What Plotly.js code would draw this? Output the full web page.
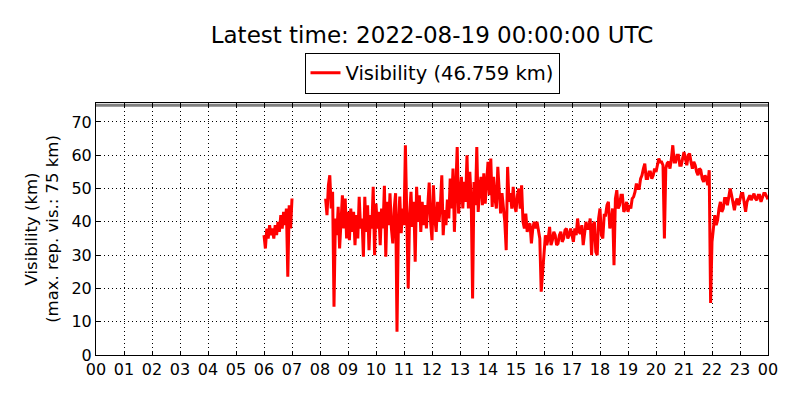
<!DOCTYPE html>
<html>
<head>
<meta charset="utf-8">
<script src="https://cdn.plot.ly/plotly-3.0.1.min.js"></script>
<style>
  body { margin: 0; background: #fff; }
  #chart { width: 800px; height: 400px; }
</style>
</head>
<body>
<div id="chart"></div>
<script>
// visibility readings (km), hours of 2022-08-18 UTC
var morningStart = 6.0;
var morningStep = 0.05;
var morningVis = [
  36, 32, 38, 35, 39, 36, 38, 35, 39, 36, 40, 37, 42, 38, 43, 39, 44, 23.5, 45, 38, 47
];

var dayStart = 8.2;
var dayStep = 0.05;
var dayVis = [
  // 08:12 - 08:57
  47, 42, 51, 54, 44, 49, 14.5, 41, 36, 44.5, 32, 42, 48, 38, 47, 35,
  // 09
  43, 34.5, 44, 37, 43, 33, 42, 35, 47.5, 38, 41, 29.5, 47.5, 37, 45, 31.5, 42, 38, 50.5, 30,
  // 10
  45.5, 38, 43, 33, 44, 38, 50.8, 29.5, 46, 39, 48.6, 38, 33.5, 44, 48.6, 7, 40, 47.6, 36.6, 44,
  // 11
  39, 63, 35, 20, 42, 49, 38.5, 46, 28, 50.5, 40, 48, 37, 46, 39, 45, 38, 47, 51.8, 40,
  // 12
  34.5, 51, 41, 37, 46, 40, 45, 54, 36, 43.5, 39, 46.7, 41, 53, 44, 56, 37, 50, 62.5, 42.5,
  // 13
  49, 53.5, 44, 52, 46, 60, 44, 55, 47, 17, 52, 45, 62.5, 43, 50, 53.5, 45, 54.6, 45.5, 52,
  // 14
  58, 48, 59, 44.5, 53.5, 47, 44, 56.5, 49, 42.5, 48.6, 44, 40, 31.5, 56.5, 46, 48.6, 44, 50.5, 45,
  // 15
  43, 48, 50, 44, 51, 40, 38, 42.5, 37, 39, 39.5, 33.5, 38, 40, 38, 40, 37.5, 35, 19, 25.5,
  // 16
  31, 36, 33, 35, 38.5, 33, 34.5, 37, 36, 33, 33.5, 36, 37, 34, 35, 37.5, 38, 35, 36, 38,
  // 17
  36, 34, 38, 36, 41, 37, 36.5, 39, 33, 37, 40, 38, 38, 41, 30, 39, 40, 31, 30, 41,
  // 18
  44, 36, 35, 42, 42, 45, 46, 38, 40, 44, 27, 47, 49.5, 44, 45, 48, 48, 43, 44, 46,
  // 19
  43, 45, 44, 47, 47.5, 49, 51.5, 50, 50, 53, 54, 56, 57.5, 53, 53, 55, 55, 53, 54, 56,
  // 20
  55, 57, 59, 58, 58, 57, 35, 56, 57.6, 58, 56, 59, 63, 58, 58, 60, 60, 57, 57, 59,
  // 21
  61, 59, 57, 60, 60.5, 58, 56, 58, 57, 55, 54, 56, 55.5, 53, 52, 54, 53, 51, 55.5, 15.6,
  // 22
  34, 38, 42, 39, 40.5, 44, 46, 43, 44, 47, 47, 45, 47, 50, 48, 45, 43.5, 46, 47, 45,
  // 23
  47, 48.5, 48.5, 45, 43, 46, 47, 48, 46.5, 47.5, 48.5, 47, 46.5, 48, 48, 46, 47, 48.5, 48.5, 47.5,
  // 00
  46.759
];

var latestVis = 46.759;
var maxRepVis = 75;
var latestTime = '2022-08-19 00:00:00 UTC';

var hourTicks = [];
var hourLabels = [];
for (var h = 0; h <= 24; h++) {
  hourTicks.push(h);
  hourLabels.push(('0' + (h % 24)).slice(-2));
}

function makeTimes(start, step, n) {
  var t = [];
  for (var i = 0; i < n; i++) {
    t.push(Math.round((start + i * step) * 1000) / 1000);
  }
  return t;
}

var x = [].concat(makeTimes(morningStart, morningStep, morningVis.length), [null],
  makeTimes(dayStart, dayStep, dayVis.length));
var y = [].concat(morningVis, [null], dayVis);

var maxTrace = {
  x: [hourTicks[0], hourTicks[hourTicks.length - 1]],
  y: [maxRepVis, maxRepVis],
  mode: 'lines',
  line: { color: '#808080', width: 3 },
  showlegend: false,
  hoverinfo: 'skip'
};

var visTrace = {
  x: x,
  y: y,
  mode: 'lines',
  name: 'Visibility (' + latestVis.toFixed(3) + ' km)',
  line: { color: '#ff0000', width: 3 },
  connectgaps: false
};

var axisStyle = {
  showline: true,
  linecolor: '#000',
  linewidth: 1,
  mirror: 'ticks',
  ticks: 'inside',
  ticklen: 4,
  tickcolor: '#000',
  showgrid: true,
  gridcolor: '#000',
  gridwidth: 1,
  griddash: '1px,3px',
  zeroline: false,
  tickfont: { size: 16, color: '#000' }
};

var layout = {
  width: 800,
  height: 400,
  paper_bgcolor: '#fff',
  plot_bgcolor: '#fff',
  font: { family: 'DejaVu Sans', color: '#000' },
  margin: { l: 96, r: 32, t: 103, b: 45 },
  title: {
    text: 'Latest time: ' + latestTime,
    font: { size: 23, color: '#000' },
    x: 0.54,
    xanchor: 'center',
    y: 0.912,
    yanchor: 'middle'
  },
  showlegend: true,
  legend: {
    orientation: 'h',
    x: 0.5,
    xanchor: 'center',
    y: 1.2,
    yanchor: 'top',
    bordercolor: '#000',
    borderwidth: 1,
    font: { size: 19.5, color: '#000' }
  },
  xaxis: Object.assign({}, axisStyle, {
    range: [0, 24],
    tickmode: 'array',
    tickvals: hourTicks,
    ticktext: hourLabels
  }),
  yaxis: Object.assign({}, axisStyle, {
    range: [0, 75.7],
    tickmode: 'linear',
    tick0: 0,
    dtick: 10,
    title: {
      text: 'Visibility (km)<br>(max. rep. vis.: ' + maxRepVis + ' km)',
      font: { size: 16.5, color: '#000' },
      standoff: 8
    }
  })
};

Plotly.newPlot('chart', [maxTrace, visTrace], layout, { displayModeBar: false, staticPlot: true });
</script>
</body>
</html>
